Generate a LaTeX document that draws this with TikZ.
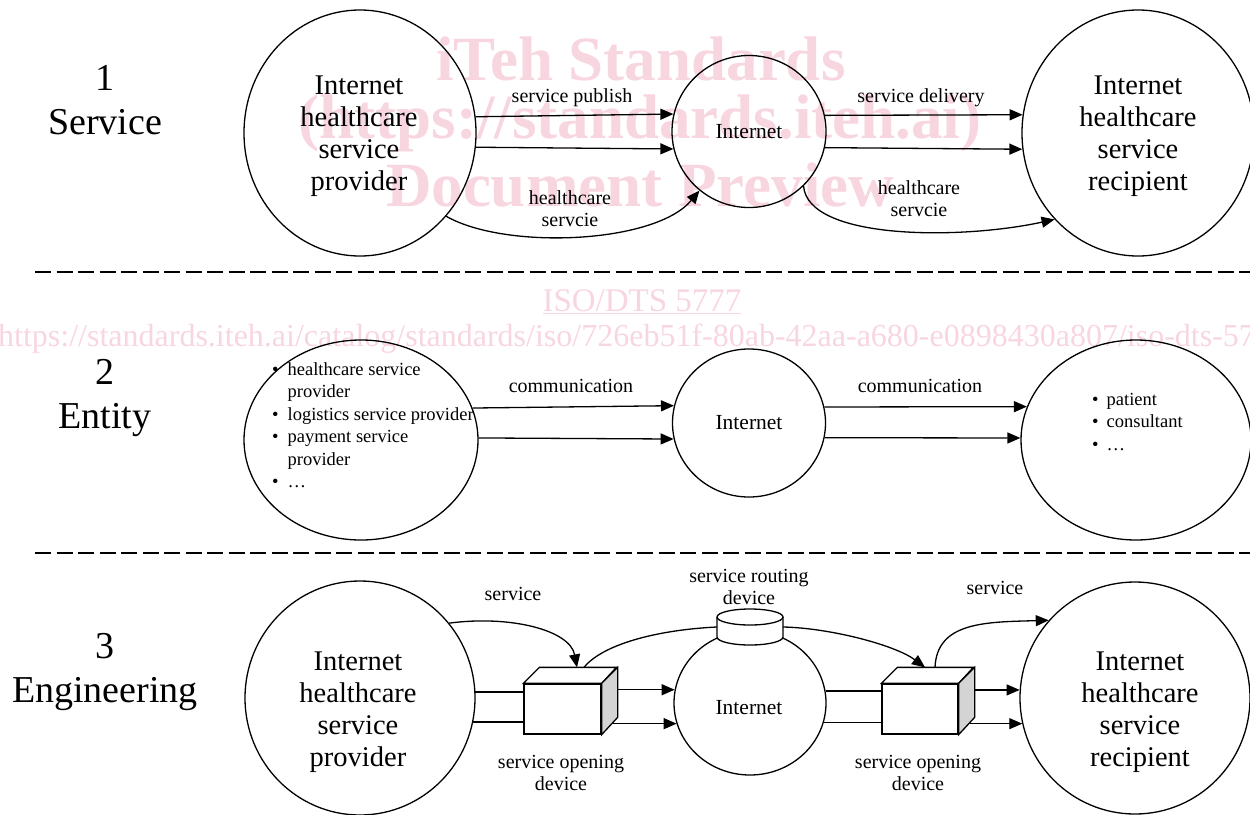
\documentclass[tikz,border=0pt]{standalone}
\usepackage{fontspec}
\setmainfont{Liberation Serif}
\usetikzlibrary{arrows.meta,calc,shapes.geometric}
\definecolor{wmpink}{RGB}{248,214,223}
\definecolor{sidegray}{RGB}{212,212,212}
\newcommand\fsz[2]{\fontsize{#1pt}{#2pt}\selectfont}
\begin{document}
\begin{tikzpicture}[x=1pt,y=-1pt,
  ln/.style={line width=1.3pt},
  arr/.style={line width=1.3pt,-{Triangle[length=13pt,width=11pt]}},
  circ/.style={ellipse,draw,line width=1.3pt,inner sep=0pt,align=center},
  lbl/.style={font=\fsz{20}{22},align=center,inner sep=0pt},
  inet/.style={font=\fsz{21.5}{24}},
  rowlbl/.style={font=\fsz{38}{44},align=center,inner sep=0pt},
  bigtxt/.style={font=\fsz{28.5}{32},align=center,inner sep=0pt},
  listtxt/.style={font=\fsz{18.5}{22.5},anchor=west,inner sep=0pt},
  wm/.style={text=wmpink,inner sep=0pt},
  sep/.style={line width=1.8pt,dash pattern=on 16pt off 5.5pt},
  boxf/.style={draw,fill=white,line width=1.3pt,inner sep=0pt,minimum height=50pt},
]
\useasboundingbox (0,0) rectangle (1250,814);
% ---------- watermark ----------
\node[wm,font=\bfseries\fsz{63}{70},anchor=base] (wm1) at (641,80) {iTeh Standards};
\node[wm,font=\bfseries\fsz{63}{70},anchor=base] (wm2) at (640,138) {(https://standards.iteh.ai)};
\node[wm,font=\bfseries\fsz{63}{70},anchor=base] (wm3) at (640,206) {Document Preview};
\node[wm,font=\fsz{33}{36},anchor=base] (wm4) at (642,311) {\underline{ISO/DTS 5777}};
\node[wm,font=\fsz{32}{34},anchor=base west] (wm5) at (-2,346) {https://standards.iteh.ai/catalog/standards/iso/726eb51f-80ab-42aa-a680-e0898430a807/iso-dts-5777};

% ---------- row labels ----------
\node[rowlbl] (r1) at (105,100) {1\\Service};
\node[rowlbl] (r2) at (105,398) {2\\Entity};
\node[rowlbl] (r3) at (105,672) {3\\Engineering};

% ---------- separators ----------
\coordinate (s1a) at (35,272); \coordinate (s1b) at (1250,272);
\coordinate (s2a) at (35,553); \coordinate (s2b) at (1250,553);
\draw[sep] (s1a) -- (s1b);
\draw[sep] (s2a) -- (s2b);

% ---------- row 1 ----------
\node[circ,minimum width=232pt,minimum height=246pt] (L1) at (360,133) {};
\node[bigtxt] (L1t) at (359,136) {Internet\\healthcare\\service\\provider};
\node[circ,inet,minimum width=154pt,minimum height=152pt] (I1) at (749,131.5) {Internet};
\node[circ,minimum width=232pt,minimum height=246pt] (R1) at (1138,133) {};
\node[bigtxt] (R1t) at (1138,136) {Internet\\healthcare\\service\\recipient};

\draw[arr] (L1.8.9) -- (I1.167.6);
\draw[arr] (L1.-7.4) -- (I1.-167.6);
\draw[arr] (I1.12.4) -- (R1.171.1);
\draw[arr] (I1.-12.4) -- (R1.-172.6);
\draw[arr] (L1.-44) .. controls (505,250) and (655,244) .. (I1.-130);
\draw[arr] (I1.-45) .. controls (808,240) and (960,240) .. (R1.-134);

\node[lbl] (t1) at (572,98) {service publish};
\node[lbl] (t2) at (921,98) {service delivery};
\node[lbl] (t3) at (570,208.5) {healthcare\\servcie};
\node[lbl] (t4) at (919,198.5) {healthcare\\servcie};

% ---------- row 2 ----------
\node[circ,minimum width=234pt,minimum height=200pt] (L2) at (361,440) {};
\node[listtxt] (L2t) at (272,427) {\begin{tabular}{@{}l@{\hspace{9pt}}l@{}}•&healthcare service\\&provider\\•&logistics service provider\\•&payment service\\&provider\\•&…\end{tabular}};
\node[circ,inet,minimum width=153pt,minimum height=148pt] (I2) at (749,423) {Internet};
\node[circ,minimum width=230pt,minimum height=200pt] (R2) at (1136,440) {};
\node[listtxt] (R2t) at (1092,423) {\begin{tabular}{@{}l@{\hspace{8pt}}l@{}}•&patient\\•&consultant\\•&…\end{tabular}};

\draw[arr] (L2.16.6) -- (I2.167.9);
\draw[arr] (L2.1) -- (I2.-168.7);
\draw[arr] (I2.12.1) -- (R2.163.1);
\draw[arr] (I2.-11.3) -- (R2.179);

\node[lbl] (t5) at (571,386) {communication};
\node[lbl] (t6) at (920,386) {communication};

% ---------- row 3 ----------
\node[circ,minimum width=230pt,minimum height=234pt] (L3) at (360,698) {};
\node[bigtxt] (L3t) at (358,712) {Internet\\healthcare\\service\\provider};
\node[circ,minimum width=152pt,minimum height=144pt] (I3) at (750,703) {};
\node[inet,inner sep=0pt] (I3t) at (749,708) {Internet};
\node[circ,minimum width=230pt,minimum height=232pt] (R3) at (1135,698) {};
\node[bigtxt] (R3t) at (1140,712) {Internet\\healthcare\\service\\recipient};

% service opening devices (3D boxes)
\node[boxf,minimum width=77pt] (B1) at (562.5,709) {};
\draw[ln,fill=white] (B1.north west) -- ++(16,-16) -- ++(77,0) -- (B1.north east) -- cycle;
\draw[ln,fill=sidegray] (B1.north east) -- ++(16,-16) -- ++(0,50) -- (B1.south east) -- cycle;
\node[boxf,minimum width=76pt] (B2) at (920,709) {};
\draw[ln,fill=white] (B2.north west) -- ++(16,-16) -- ++(76,0) -- (B2.north east) -- cycle;
\draw[ln,fill=sidegray] (B2.north east) -- ++(16,-16) -- ++(0,50) -- (B2.south east) -- cycle;
\coordinate (B1r) at ($(B1.north east)+(16,-16)$);
\coordinate (B1b) at ($(B1.south east)+(11,-11)$);
\coordinate (B2r) at ($(B2.north east)+(16,-16)$);
\coordinate (B2b) at ($(B2.south east)+(11,-11)$);
\coordinate (B1in) at ($(B1.north)+(14.5,-16)$);
\coordinate (B1out) at ($(B1.north)+(21.5,-16)$);
\coordinate (B2in) at ($(B2.north)+(5,-16)$);
\coordinate (B2out) at ($(B2.north)+(15,-16)$);

% service routing device (cylinder)
\node[inner sep=0pt,minimum width=66pt,minimum height=36pt] (C) at (750,627) {};
\draw[ln,fill=white] (717,617) -- (717,637) arc[start angle=180,end angle=360,x radius=33pt,y radius=8pt] -- (783,617) arc[start angle=0,end angle=180,x radius=33pt,y radius=8pt] -- cycle;
\draw[ln] (717,617) arc[start angle=180,end angle=360,x radius=33pt,y radius=8pt];

% straight connectors
\draw[ln] (L3.3.5) -- (L3.3.5 -| B1.west);
\draw[ln] (L3.-12.5) -- (L3.-12.5 -| B1.west);
\draw[arr] (I3.170.9 -| B1r) -- (I3.170.9);
\draw[arr] (B1b) -- (B1b -| I3.-164.7);
\draw[ln] (I3.9.1) -- (I3.9.1 -| B2.west);
\draw[ln] (I3.-15.3) -- (I3.-15.3 -| B2.west);
\draw[arr] (R3.176.5 -| B2r) -- (R3.176.5);
\draw[arr] (B2b) -- (B2b -| R3.-167.4);

% curved connectors
\draw[arr] (L3.40) .. controls (510,615) and (570,630) .. (B1in);
\draw[ln] (B1out) .. controls (602,645) and (655,630) .. (C.west);
\draw[arr] (C.east) .. controls (830,628) and (895,645) .. (B2in);
\draw[arr] (B2out) .. controls (937,622) and (985,622) .. (R3.138);

\node[lbl] (t7) at (513,594) {service};
\node[lbl] (t8) at (995,588) {service};
\node[lbl] (t9) at (749,587) {service routing\\device};
\node[lbl] (t10) at (561,773) {service opening\\device};
\node[lbl] (t11) at (918,773) {service opening\\device};
\end{tikzpicture}
\end{document}
